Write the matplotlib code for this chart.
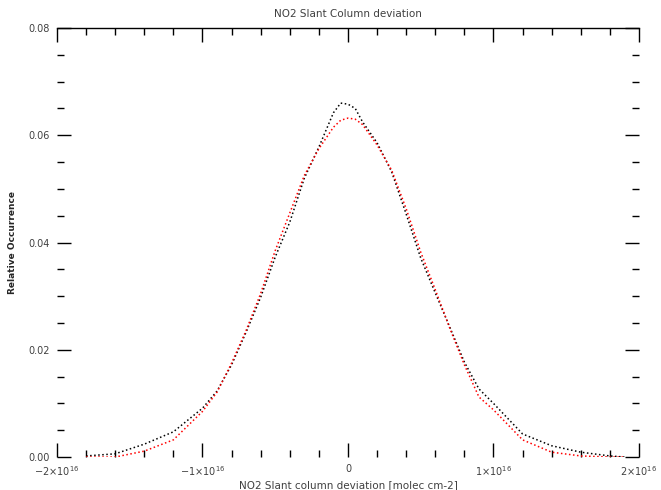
import matplotlib
matplotlib.use("Agg")
import matplotlib.pyplot as plt
from matplotlib.ticker import MultipleLocator, FixedLocator

# deviation in units of 1e16 molec cm-2
dev = [-1.8, -1.6, -1.4, -1.2, -1.0, -0.9, -0.8, -0.7, -0.6, -0.5, -0.4, -0.3,
       -0.2, -0.1, -0.05, 0.0, 0.05, 0.1, 0.2, 0.3, 0.4, 0.5, 0.6, 0.7, 0.8,
       0.9, 1.0, 1.2, 1.4, 1.6, 1.8, 1.9]

occ_black = [0.0002, 0.0006, 0.0024, 0.0047, 0.0091, 0.0123, 0.0172, 0.0233,
             0.0298, 0.0373, 0.0438, 0.0520, 0.0578, 0.0642, 0.0660, 0.0658,
             0.0650, 0.0625, 0.0586, 0.0532, 0.0453, 0.0371, 0.0306, 0.0242,
             0.0177, 0.0127, 0.0100, 0.0043, 0.0021, 0.0009, 0.0002, 0.0]

occ_red = [0.0, 0.0, 0.0011, 0.0032, 0.0085, 0.0121, 0.0175, 0.0236, 0.0305,
           0.0385, 0.0455, 0.0525, 0.0575, 0.0615, 0.0628, 0.0632, 0.0630,
           0.0620, 0.0582, 0.0535, 0.0463, 0.0382, 0.0312, 0.0240, 0.0172,
           0.0112, 0.0088, 0.0032, 0.0009, 0.0002, 0.0, 0.0]

xticks = [-2e16, -1e16, 0, 1e16, 2e16]
xticklabels = [r'$-2{\times}10^{16}$', r'$-1{\times}10^{16}$', '0',
               r'$1{\times}10^{16}$', r'$2{\times}10^{16}$']
yticks = [0.0, 0.02, 0.04, 0.06, 0.08]
yticklabels = ['0.00', '0.02', '0.04', '0.06', '0.08']

fig = plt.figure(figsize=(6.61, 4.90), dpi=100)
ax = fig.add_axes([0.0862, 0.0673, 0.8805, 0.8755])

xs = [d * 1e16 for d in dev]
ax.plot(xs, occ_black, color='black', linestyle=':', linewidth=1.1)
ax.plot(xs, occ_red, color='red', linestyle=':', linewidth=1.1)

ax.set_xlim(-2e16, 2e16)
ax.set_ylim(0, 0.08)
ax.xaxis.set_major_locator(FixedLocator(xticks))
ax.set_xticklabels(xticklabels)
ax.xaxis.set_minor_locator(MultipleLocator(0.2e16))
ax.yaxis.set_major_locator(FixedLocator(yticks))
ax.set_yticklabels(yticklabels)
ax.yaxis.set_minor_locator(MultipleLocator(0.005))

for s in ['left', 'right', 'bottom']:
    ax.spines[s].set_visible(False)
ax.spines['top'].set_linewidth(1.0)

ax.tick_params(which='both', direction='in', top=True, right=True,
               colors='black', labelcolor='0.25', labelsize=7)
ax.tick_params(which='major', length=10, width=1.0, pad=5)
ax.tick_params(which='minor', length=5, width=1.0)

ax.set_title('NO2 Slant Column deviation', fontsize=7.5, color='0.25', pad=8)
ax.set_xlabel('NO2 Slant column deviation [molec cm-2]', fontsize=7.5,
              color='0.25', labelpad=2)
ax.set_ylabel('Relative Occurrence', fontsize=6.5, color='0.15', labelpad=8,
              fontweight='bold')

fig.savefig('out.png', dpi=100)
